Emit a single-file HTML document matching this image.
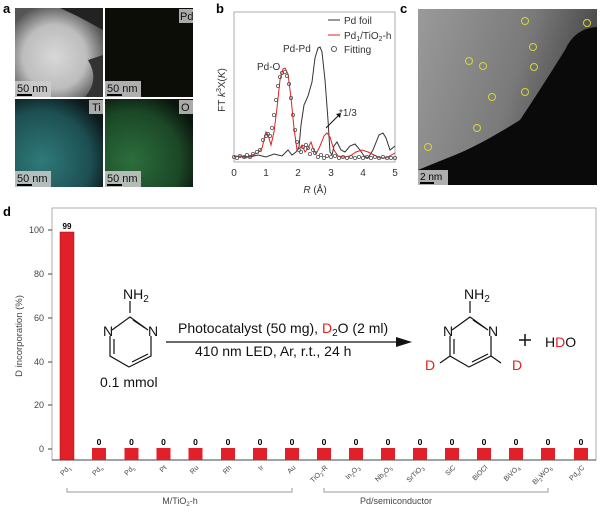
<!DOCTYPE html>
<html><head><meta charset="utf-8"><style>
body{margin:0;background:#fff;width:600px;height:511px;overflow:hidden;font-family:"Liberation Sans",sans-serif}
</style></head><body>
<svg width="600" height="511" viewBox="0 0 600 511" xmlns="http://www.w3.org/2000/svg" font-family="Liberation Sans, sans-serif">
<defs>
<radialGradient id="ga" cx="0.45" cy="0.55" r="0.6"><stop offset="0" stop-color="#d8d8d8"/><stop offset="0.6" stop-color="#bdbdbd"/><stop offset="1" stop-color="#555"/></radialGradient>
<radialGradient id="gti" cx="0.3" cy="0.7" r="0.8"><stop offset="0" stop-color="#2f7a7a"/><stop offset="0.7" stop-color="#1d4f52"/><stop offset="1" stop-color="#0c1a1c"/></radialGradient>
<radialGradient id="go" cx="0.3" cy="0.7" r="0.8"><stop offset="0" stop-color="#2c6e3c"/><stop offset="0.7" stop-color="#1b4726"/><stop offset="1" stop-color="#0b170e"/></radialGradient>
<linearGradient id="gc" x1="0" y1="0" x2="1" y2="0.3"><stop offset="0" stop-color="#9a9a9a"/><stop offset="0.6" stop-color="#7a7a7a"/><stop offset="1" stop-color="#444"/></linearGradient>
<marker id="mc" markerWidth="6" markerHeight="6" refX="3" refY="3" markerUnits="userSpaceOnUse"><circle cx="3" cy="3" r="1.6" fill="none" stroke="#555" stroke-width="0.8"/></marker>
</defs>
<!-- panel a -->
<text x="3" y="13" font-size="13" font-weight="bold">a</text>
<rect x="15" y="8" width="88" height="89" fill="url(#ga)"/>
<path d="M60 8 L103 8 L103 30 Q85 20 75 15 Z" fill="#222"/>
<path d="M88 60 Q100 80 85 97 L103 97 L103 55 Z" fill="#333"/>
<rect x="105" y="8" width="88" height="89" fill="#0d0d08"/>
<rect x="15" y="99" width="88" height="88" fill="url(#gti)"/>
<rect x="105" y="99" width="88" height="88" fill="url(#go)"/>
<g font-size="11" fill="#111">
<rect x="15" y="81" width="36" height="16" fill="#ccc" opacity="0.85"/><text x="17" y="92">50 nm</text><rect x="17" y="94" width="15" height="2" fill="#000"/>
<rect x="105" y="81" width="36" height="16" fill="#ccc" opacity="0.85"/><text x="107" y="92">50 nm</text><rect x="107" y="94" width="15" height="2" fill="#000"/>
<rect x="15" y="171" width="36" height="16" fill="#ccc" opacity="0.85"/><text x="17" y="182">50 nm</text><rect x="17" y="184" width="15" height="2" fill="#000"/>
<rect x="105" y="171" width="36" height="16" fill="#ccc" opacity="0.85"/><text x="107" y="182">50 nm</text><rect x="107" y="184" width="15" height="2" fill="#000"/>
<rect x="179" y="9" width="14" height="14" fill="#aaa"/><text x="180" y="20">Pd</text>
<rect x="89" y="100" width="14" height="14" fill="#aaa"/><text x="92" y="111">Ti</text>
<rect x="179" y="100" width="14" height="14" fill="#aaa"/><text x="181" y="111">O</text>
</g>
<!-- panel b -->
<text x="216" y="13" font-size="13" font-weight="bold">b</text>
<rect x="234" y="12" width="161" height="150" fill="none" stroke="#999" stroke-width="0.8"/>
<g font-size="10" fill="#333" text-anchor="middle">
<text x="234" y="176">0</text><text x="266" y="176">1</text><text x="298" y="176">2</text><text x="331" y="176">3</text><text x="363" y="176">4</text><text x="395" y="176">5</text>
<text x="315" y="193"><tspan font-style="italic">R</tspan> (Å)</text>
<text transform="translate(225,90) rotate(-90)" font-size="10">FT <tspan font-style="italic">k</tspan><tspan font-size="7" dy="-4">3</tspan><tspan dy="4">X(</tspan><tspan font-style="italic">K</tspan>)</text>
</g>
<path d="M234 156 L250 157 L258 155 L266 157 L274 154 L282 156 L288 150 L292 155 L296 152 L299 147 L301 125 L304 105 L308 96 L312 82 L315 58 L318 48 L320 47 L322 52 L325 80 L328 120 L330 152 L332 155 L334 146 L337 142 L341 150 L345 152 L350 146 L355 144 L360 150 L364 156 L368 158 L373 150 L379 135 L383 133 L386 138 L390 150 L395 146" fill="none" stroke="#333" stroke-width="1"/>
<path d="M234 157 L240 156 L246 158 L252 155 L258 153 L262 148 L266 132 L268 135 L271 145 L274 132 L277 108 L280 80 L283 69 L285 68 L288 74 L291 98 L294 128 L297 150 L300 148 L302 145 L305 152 L308 148 L311 142 L313 148 L316 154 L320 146 L324 136 L327 133 L330 137 L334 150 L338 156 L344 157 L350 156 L356 152 L362 150 L368 152 L374 155 L380 158 L386 158 L395 153" fill="none" stroke="#e02020" stroke-width="1"/>
<path d="M234 157 L237 158 L240 156 L244 157 L247 155 L250 157 L253 154 L257 152 L260 150 L263 140 L266 136 L268 134 L270 136 L272 128 L274 115 L276 100 L278 86 L280 77 L282 73 L285 72 L287 76 L289 84 L291 98 L293 115 L295 130 L297 142 L299 150 L301 152 L303 147 L306 145 L308 148 L310 154 L313 150 L315 153 L318 157 L321 155 L324 158 L327 156 L331 157 L335 156 L339 158 L343 157 L347 158 L351 157 L355 158 L359 157 L363 158 L367 157 L371 158 L375 157 L379 158 L383 157 L387 158 L391 158 L395 158" fill="none" stroke="none" marker-start="url(#mc)" marker-mid="url(#mc)" marker-end="url(#mc)"/>
<g font-size="10" fill="#333">
<line x1="328" y1="20" x2="340" y2="20" stroke="#333"/><text x="344" y="24">Pd foil</text>
<line x1="328" y1="35" x2="340" y2="35" stroke="#e02020"/><text x="344" y="39">Pd<tspan font-size="7" dy="2">1</tspan><tspan dy="-2">/TiO</tspan><tspan font-size="7" dy="2">2</tspan><tspan dy="-2">-h</tspan></text>
<circle cx="334" cy="49" r="2.5" fill="none" stroke="#555"/><text x="344" y="53">Fitting</text>
<text x="283" y="52">Pd-Pd</text>
<text x="257" y="70">Pd-O</text>
<text x="339" y="116">*1/3</text>
<line x1="326" y1="128" x2="340" y2="114" stroke="#111"/><path d="M341 113 L336 114 L340 118 Z" fill="#111"/>
</g>
<!-- panel c -->
<text x="400" y="13" font-size="13" font-weight="bold">c</text>
<rect x="418" y="9" width="179" height="176" fill="url(#gc)"/>
<path d="M597 27 Q575 28 565 50 Q540 90 520 120 Q480 145 455 155 Q430 165 418 170 L418 185 L597 185 Z" fill="#0a0a0a"/>
<g fill="none" stroke="#d6d63a" stroke-width="1">
<circle cx="525" cy="21" r="3.5"/><circle cx="587" cy="23" r="3.5"/><circle cx="533" cy="47" r="3.5"/><circle cx="469" cy="61" r="3.5"/><circle cx="483" cy="66" r="3.5"/><circle cx="534" cy="67" r="3.5"/><circle cx="525" cy="92" r="3.5"/><circle cx="492" cy="97" r="3.5"/><circle cx="477" cy="128" r="3.5"/><circle cx="428" cy="147" r="3.5"/>
</g>
<rect x="418" y="170" width="30" height="15" fill="#ccc" opacity="0.85"/><text x="420" y="180" font-size="10">2 nm</text><rect x="420" y="182" width="14" height="2" fill="#000"/>
<!-- panel d -->
<text x="3" y="216" font-size="13" font-weight="bold">d</text>
<path d="M52 208 L596 208 L596 460 L52 460 Z" fill="none" stroke="#999" stroke-width="0.8"/>
<line x1="52" y1="460" x2="596" y2="460" stroke="#444" stroke-width="1"/>
<g font-size="9" fill="#444" text-anchor="end">
<text x="44" y="233">100</text><text x="44" y="277">80</text><text x="44" y="321">60</text><text x="44" y="365">40</text><text x="44" y="408">20</text><text x="44" y="452">0</text>
</g>
<g stroke="#444"><line x1="48" y1="230" x2="52" y2="230"/><line x1="48" y1="274" x2="52" y2="274"/><line x1="48" y1="318" x2="52" y2="318"/><line x1="48" y1="362" x2="52" y2="362"/><line x1="48" y1="405" x2="52" y2="405"/><line x1="48" y1="449" x2="52" y2="449"/></g>
<text transform="translate(22,336) rotate(-90)" font-size="9.5" fill="#444" text-anchor="middle">D incorporation (%)</text>
<rect x="60" y="232" width="14" height="228" fill="#e2202a" stroke="#8a1015" stroke-width="0.5"/>
<text x="67" y="229" font-size="8" font-weight="bold" text-anchor="middle">99</text>
<g fill="#e2202a">
<rect x="92" y="448" width="14" height="12"/><rect x="124.5" y="448" width="14" height="12"/><rect x="156.5" y="448" width="14" height="12"/><rect x="188.5" y="448" width="14" height="12"/><rect x="221" y="448" width="14" height="12"/><rect x="253" y="448" width="14" height="12"/><rect x="285" y="448" width="14" height="12"/>
<rect x="317" y="448" width="14" height="12"/><rect x="349" y="448" width="14" height="12"/><rect x="381" y="448" width="14" height="12"/><rect x="413" y="448" width="14" height="12"/><rect x="445" y="448" width="14" height="12"/><rect x="477" y="448" width="14" height="12"/><rect x="509" y="448" width="14" height="12"/><rect x="541" y="448" width="14" height="12"/><rect x="574" y="448" width="14" height="12"/>
</g>
<g font-size="8.5" font-weight="bold" text-anchor="middle">
<text x="99" y="445">0</text><text x="131.5" y="445">0</text><text x="163.5" y="445">0</text><text x="195.5" y="445">0</text><text x="228" y="445">0</text><text x="260" y="445">0</text><text x="292" y="445">0</text><text x="324" y="445">0</text><text x="356" y="445">0</text><text x="388" y="445">0</text><text x="420" y="445">0</text><text x="452" y="445">0</text><text x="484" y="445">0</text><text x="516" y="445">0</text><text x="548" y="445">0</text><text x="581" y="445">0</text>
</g>
<g font-size="7" fill="#444" text-anchor="end">
<text transform="translate(71,468) rotate(-45)">Pd<tspan font-size="5" dy="2">1</tspan></text>
<text transform="translate(103,468) rotate(-45)">Pd<tspan font-size="5" dy="2">n</tspan></text>
<text transform="translate(135,468) rotate(-45)">Pd<tspan font-size="5" dy="2">c</tspan></text>
<text transform="translate(167,468) rotate(-45)">Pt</text>
<text transform="translate(199,468) rotate(-45)">Ru</text>
<text transform="translate(232,468) rotate(-45)">Rh</text>
<text transform="translate(264,468) rotate(-45)">Ir</text>
<text transform="translate(296,468) rotate(-45)">Au</text>
<text transform="translate(328,468) rotate(-45)">TiO<tspan font-size="5" dy="2">2</tspan><tspan dy="-2">-R</tspan></text>
<text transform="translate(360,468) rotate(-45)">In<tspan font-size="5" dy="2">2</tspan><tspan dy="-2">O</tspan><tspan font-size="5" dy="2">3</tspan></text>
<text transform="translate(392,468) rotate(-45)">Nb<tspan font-size="5" dy="2">2</tspan><tspan dy="-2">O</tspan><tspan font-size="5" dy="2">5</tspan></text>
<text transform="translate(424,468) rotate(-45)">SrTiO<tspan font-size="5" dy="2">3</tspan></text>
<text transform="translate(456,468) rotate(-45)">SiC</text>
<text transform="translate(488,468) rotate(-45)">BiOCl</text>
<text transform="translate(520,468) rotate(-45)">BiVO<tspan font-size="5" dy="2">4</tspan></text>
<text transform="translate(552,468) rotate(-45)">Bi<tspan font-size="5" dy="2">2</tspan><tspan dy="-2">WO</tspan><tspan font-size="5" dy="2">6</tspan></text>
<text transform="translate(585,468) rotate(-45)">Pd<tspan font-size="5" dy="2">n</tspan><tspan dy="-2">/C</tspan></text>
</g>
<path d="M67 488 L67 492 L292 492 L292 488" fill="none" stroke="#999"/>
<path d="M324 488 L324 492 L548 492 L548 488" fill="none" stroke="#999"/>
<text x="180" y="504" font-size="9" fill="#444" text-anchor="middle">M/TiO<tspan font-size="6" dy="2">2</tspan><tspan dy="-2">-h</tspan></text>
<text x="396" y="504" font-size="9" fill="#444" text-anchor="middle">Pd/semiconductor</text>
<!-- reaction -->
<g stroke="#111" stroke-width="1.2" fill="none">
<path d="M130 301 L130 313 M112 330 L130 317 L148 330 M110 336 L110 356 L129 367 L151 356 L151 336"/>
<path d="M114 339 L114 354 M132 362 L148 354 M133 320 L145 328"/>
<line x1="166" y1="342" x2="404" y2="342"/>
<g transform="translate(-38,0)">
<line x1="508" y1="301" x2="508" y2="313" /><path d="M490 330 L508 317 L526 330 M488 336 L488 356 L507 367 L529 356 L529 336 M492 339 L492 354 M510 362 L526 354 M511 320 L523 328"/>
<path d="M488 356 L478 363 M529 356 L539 363"/>
</g>
<path d="M519 340 L531 340 M525 334 L525 346" stroke-width="1.5"/>
</g>
<path d="M412 342 L396 337 L396 347 Z" fill="#111"/>
<g font-size="14" fill="#111">
<text x="123" y="299">NH<tspan font-size="10" dy="3">2</tspan></text>
<text x="103" y="336">N</text><text x="148" y="336">N</text>
<text x="100" y="387">0.1 mmol</text>
<text x="178" y="333">Photocatalyst (50 mg), <tspan fill="#e02020">D</tspan><tspan font-size="10" dy="3">2</tspan><tspan dy="-3">O (2 ml)</tspan></text>
<text x="195" y="356">410 nm LED, Ar, r.t., 24 h</text>
<text x="464" y="299">NH<tspan font-size="10" dy="3">2</tspan></text>
<text x="443" y="336">N</text><text x="488" y="336">N</text>
<text x="425" y="370" fill="#e02020">D</text><text x="512" y="370" fill="#e02020">D</text>
<text x="545" y="347">H<tspan fill="#e02020">D</tspan>O</text>
</g>
</svg>
</body></html>
